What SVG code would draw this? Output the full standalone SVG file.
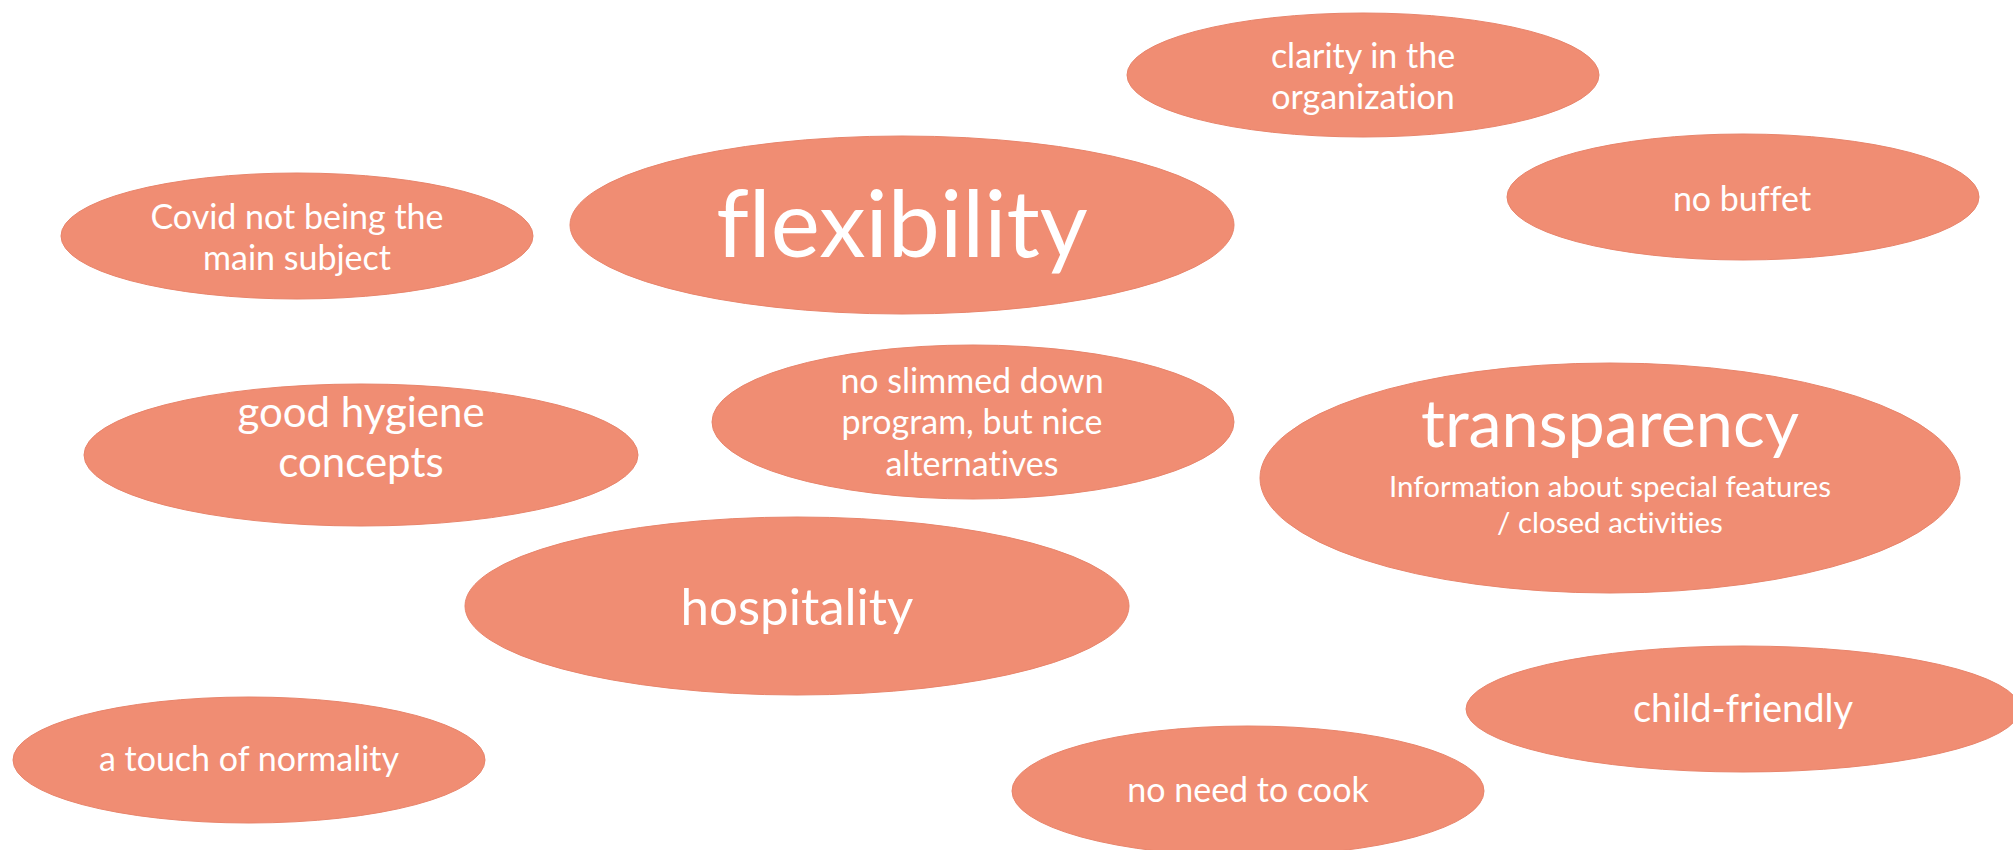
<svg xmlns="http://www.w3.org/2000/svg" width="2013" height="850" viewBox="0 0 2013 850">
<style>
.n{fill:#F08D73;stroke:#E8846B;stroke-width:1}
text{font-family:Lato,"Liberation Sans",sans-serif;fill:#FFFFFF;text-anchor:middle;font-variant-ligatures:none;font-feature-settings:"liga" 0}
.s{font-size:34px}
.c{font-size:38px}
.m{font-size:42px}
.h{font-size:51px}
.l{font-size:66.5px}
.xl{font-size:93px}
.i{font-size:29.5px}
</style>
<rect width="2013" height="850" fill="#FFFFFF"/>
<g id="connectors"/>
<g id="clarity"><ellipse class="n" cx="1363" cy="75" rx="236" ry="62"/><text class="s" x="1363" y="68">clarity in the</text><text class="s" x="1363" y="109">organization</text></g>
<g id="nobuffet"><ellipse class="n" cx="1743" cy="197" rx="236" ry="63"/><text class="s" x="1742" y="211">no buffet</text></g>
<g id="covid"><ellipse class="n" cx="297" cy="236" rx="236" ry="63"/><text class="s" x="297" y="229">Covid not being the</text><text class="s" x="297" y="270">main subject</text></g>
<g id="flexibility"><ellipse class="n" cx="902" cy="225" rx="332" ry="89"/><text class="xl" x="902" y="257">flexibility</text></g>
<g id="hygiene"><ellipse class="n" cx="361" cy="455" rx="277" ry="71"/><text class="m" x="361" y="427">good hygiene</text><text class="m" x="361" y="477">concepts</text></g>
<g id="slimmed"><ellipse class="n" cx="973" cy="422" rx="261" ry="77"/><text class="s" x="972" y="393">no slimmed down</text><text class="s" x="972" y="434">program, but nice</text><text class="s" x="972" y="476">alternatives</text></g>
<g id="transparency"><ellipse class="n" cx="1610" cy="478" rx="350" ry="115"/><text class="l" x="1610" y="447">transparency</text><text class="i" x="1610" y="497">Information about special features</text><text class="i" x="1610" y="533">/ closed activities</text></g>
<g id="hospitality"><ellipse class="n" cx="797" cy="606" rx="332" ry="89"/><text class="h" x="797" y="625">hospitality</text></g>
<g id="childfriendly"><ellipse class="n" cx="1743" cy="709" rx="277" ry="63"/><text class="c" x="1743" y="722">child-friendly</text></g>
<g id="normality"><ellipse class="n" cx="249" cy="760" rx="236" ry="63"/><text class="s" x="249" y="771">a touch of normality</text></g>
<g id="nocook"><ellipse class="n" cx="1248" cy="791" rx="236" ry="65"/><text class="s" x="1248" y="802">no need to cook</text></g>
</svg>
